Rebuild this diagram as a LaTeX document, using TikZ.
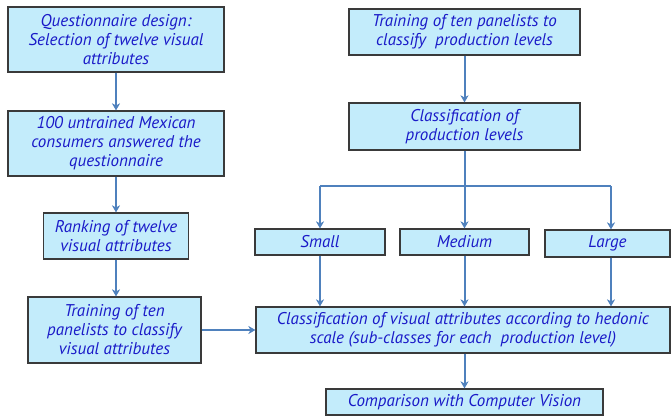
\documentclass[tikz,border=0pt]{standalone}
\usepackage{fontspec}
\setmainfont{PT Sans}
\usetikzlibrary{arrows.meta}
\definecolor{boxfill}{HTML}{C3ECFB}
\definecolor{boxtext}{HTML}{1A1AC8}
\definecolor{arrowc}{HTML}{4F81BD}
\definecolor{boxline}{HTML}{3A3A3A}
\tikzset{
  box/.style={draw=boxline, line width=1.2pt, fill=boxfill, text=boxtext,
    align=center, inner sep=1pt,
    font=\fontsize{17}{19}\selectfont\itshape},
  conn/.style={draw=arrowc, line width=2pt},
  arr/.style={conn, -{Stealth[length=7pt,width=8pt,inset=2pt]}}
}
\begin{document}
\begin{tikzpicture}[x=1pt,y=-1pt]
\useasboundingbox (0,0) rectangle (671,417);
\node[box, minimum width=216, minimum height=65] (q) at (116,39.5) {Questionnaire design:\\Selection of twelve visual\\attributes};
\node[box, minimum width=216, minimum height=65] (c) at (116,143.5) {100 untrained Mexican\\consumers answered the\\questionnaire};
\node[box, minimum width=145, minimum height=46] (r) at (116,236) {Ranking of twelve\\visual attributes};
\node[box, minimum width=173, minimum height=66] (t) at (114.5,330) {Training of ten\\panelists to classify\\visual attributes};
\node[box, minimum width=231, minimum height=46] (tp) at (464.5,32) {Training of ten panelists to\\classify\ \ production levels};
\node[box, minimum width=231, minimum height=47] (cp) at (464.5,126.5) {Classification of\\production levels};
\node[box, minimum width=130, minimum height=26] (s) at (320,242) {Small};
\node[box, minimum width=129, minimum height=26] (m) at (464.5,242) {Medium};
\node[box, minimum width=125, minimum height=27] (l) at (607.5,243.5) {Large};
\node[box, minimum width=414, minimum height=46] (b) at (463,330) {Classification of visual attributes according to hedonic\\scale (sub-classes for each\ \ production level)};
\node[box, minimum width=277, minimum height=26] (v) at (464.5,402) {Comparison with Computer Vision};
\coordinate (j) at (464.5,186);
\coordinate (js) at (320,186);
\coordinate (jl) at (611,186);
\draw[arr] (q.south) -- (c.north);
\draw[arr] (c.south) -- (r.north -| c.south);
\draw[arr] (r.south) -- (t.north -| r.south);
\draw[arr] (t.east) -- (b.west |- t.east);
\draw[arr] (tp.south) -- (cp.north);
\draw[conn] (cp.south) -- (j);
\draw[conn] (js) -- (jl);
\draw[arr] (js) -- (s.north);
\draw[arr] (j) -- (m.north);
\draw[arr] (jl) -- (l.north -| jl);
\draw[arr] (s.south) -- (b.north -| s.south);
\draw[arr] (m.south) -- (b.north -| m.south);
\draw[arr] (l.south -| jl) -- (b.north -| jl);
\draw[arr] (b.south -| v.north) -- (v.north);
\end{tikzpicture}
\end{document}
